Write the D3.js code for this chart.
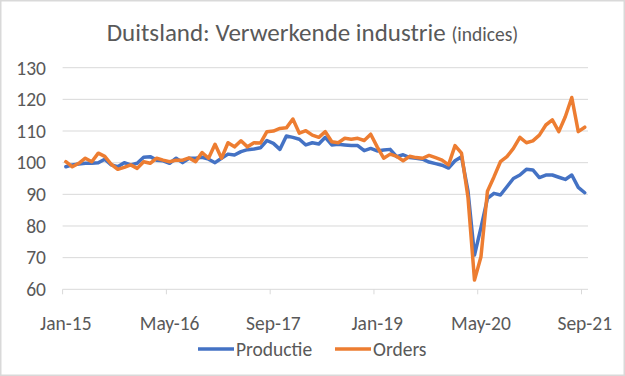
<!DOCTYPE html>
<html>
<head>
<meta charset="utf-8">
<script src="https://cdn.jsdelivr.net/npm/d3@7"></script>
<style>
  body { margin: 0; background: #fff; }
  svg { display: block; font-family: Carlito, Lato, "Open Sans", sans-serif; }
</style>
</head>
<body>
<svg id="chart" width="625" height="376"></svg>
<script>
// maandcijfers jan-15 .. sep-21
const productie = [98.7, 99.3, 99.6, 99.8, 99.8, 100, 101.1, 99.3, 98.7, 100, 99.3, 99.8,
  101.7, 101.9, 100.8, 100.6, 99.8, 101.4, 100, 101.4, 101.4, 101.7, 101.1, 100,
  101.4, 102.7, 102.4, 103.5, 104.1, 104.3, 104.7, 107, 106.1, 104.2, 108.4, 108,
  107.4, 105.6, 106.3, 105.9, 108, 105.6, 105.8, 105.6, 105.4, 105.4, 103.8, 104.5,
  103.7, 104, 104.2, 101.9, 102.5, 101.6, 101.4, 101.1, 100.2, 99.7, 99.2, 98.3,
  100.6, 101.9, 91, 70.8, 79.5, 88.7, 90.3, 89.8, 92.4, 95, 96.1, 97.9,
  97.7, 95.3, 96.1, 96.1, 95.4, 94.7, 96.1, 92.2, 90.5];
const orders = [100.3, 98.7, 99.8, 101.4, 100.3, 103, 102, 99.5, 97.9, 98.5, 99.3, 98.2,
  100.3, 99.8, 101.4, 100.8, 100.3, 100.8, 100.8, 101.5, 100.3, 103.2, 101.4, 105.8,
  101.4, 106.3, 105, 106.9, 105, 106.3, 106.2, 109.8, 110, 110.8, 111, 113.8,
  109.3, 110.1, 108.7, 108, 109.8, 106.6, 106.3, 107.7, 107.4, 107.7, 107, 109,
  105, 101.4, 102.7, 102, 100.6, 102, 101.6, 101.4, 102.3, 101.6, 100.8, 99.3,
  105.4, 103, 89, 62.9, 70.3, 91, 95.5, 100.3, 101.9, 104.5, 108, 106.3,
  106.9, 108.7, 111.9, 113.5, 109.8, 114.5, 120.6, 109.8, 111.2];
const tickLabels = ["Jan-15", "May-16", "Sep-17", "Jan-19", "May-20", "Sep-21"];
const tickEvery = 16;
const yTicks = [60, 70, 80, 90, 100, 110, 120, 130];

const series = [
  { name: "Productie", values: productie, color: "#4472C4" },
  { name: "Orders", values: orders, color: "#ED7D31" }
];

const svg = d3.select("#chart");
const textColor = "#595959";

// kader
svg.append("rect")
  .attr("x", 0.75).attr("y", 0.75)
  .attr("width", 623.5).attr("height", 374.5)
  .attr("fill", "#fff")
  .attr("stroke", "#d9d9d9")
  .attr("stroke-width", 1.5);

const x = d3.scaleBand()
  .domain(d3.range(productie.length))
  .range([62.6, 588])
  .paddingInner(0).paddingOuter(0);

const y = d3.scaleLinear()
  .domain([60, 130])
  .range([289.3, 67.7]);

const xc = i => x(i) + x.bandwidth() / 2;

// rasterlijnen
svg.append("g")
  .selectAll("line")
  .data(yTicks.slice(1))
  .join("line")
  .attr("x1", 62.6).attr("x2", 588)
  .attr("y1", d => y(d)).attr("y2", d => y(d))
  .attr("stroke", "#d9d9d9")
  .attr("stroke-width", 1);

// y labels
svg.append("g")
  .selectAll("text")
  .data(yTicks)
  .join("text")
  .attr("x", 46)
  .attr("y", d => y(d))
  .attr("dy", "0.35em")
  .attr("text-anchor", "end")
  .attr("font-size", 19.5)
  .attr("fill", textColor)
  .text(d => d);

// x-as
svg.append("line")
  .attr("x1", 62.6).attr("x2", 588)
  .attr("y1", y(60)).attr("y2", y(60))
  .attr("stroke", "#d9d9d9");

const tickIdx = tickLabels.map((_, k) => k * tickEvery);

svg.append("g")
  .selectAll("line")
  .data(tickIdx)
  .join("line")
  .attr("x1", d => x(d)).attr("x2", d => x(d))
  .attr("y1", y(60)).attr("y2", y(60) + 5)
  .attr("stroke", "#d9d9d9");

svg.append("g")
  .selectAll("text")
  .data(tickIdx)
  .join("text")
  .attr("x", d => xc(d))
  .attr("y", 330)
  .attr("text-anchor", "middle")
  .attr("font-size", 19.5)
  .attr("fill", textColor)
  .text((d, k) => tickLabels[k]);

// lijnen
const line = d3.line()
  .x((d, i) => xc(i))
  .y(d => y(d));

svg.append("g")
  .selectAll("path")
  .data(series)
  .join("path")
  .attr("d", d => line(d.values))
  .attr("fill", "none")
  .attr("stroke", d => d.color)
  .attr("stroke-width", 3.5)
  .attr("stroke-linejoin", "round")
  .attr("stroke-linecap", "round");

// titel
const title = svg.append("text")
  .attr("x", 312.5)
  .attr("y", 41)
  .attr("text-anchor", "middle")
  .attr("fill", textColor)
  .attr("font-size", 25);
title.append("tspan").text("Duitsland: Verwerkende industrie ");
title.append("tspan").attr("font-size", 19.5).text("(indices)");

// legenda
const legendPos = [198, 335];
const lg = svg.append("g")
  .selectAll("g")
  .data(series)
  .join("g")
  .attr("transform", (d, i) => `translate(${legendPos[i]},349)`);
lg.append("line")
  .attr("x1", 0).attr("x2", 36)
  .attr("stroke", d => d.color)
  .attr("stroke-width", 3.5);
lg.append("text")
  .attr("x", 38)
  .attr("dy", "0.35em")
  .attr("font-size", 19.5)
  .attr("fill", textColor)
  .text(d => d.name);
</script>
</body>
</html>
